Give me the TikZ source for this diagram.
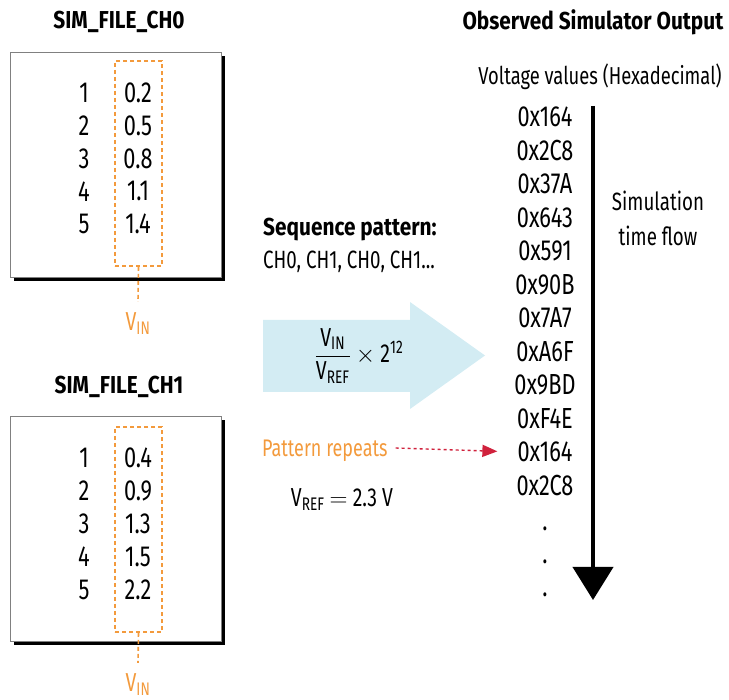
\documentclass[tikz,border=0pt]{standalone}
\usepackage{fontspec}
\setmainfont{Fira Sans}[FakeStretch=0.75, BoldFeatures={FakeStretch=0.85}]
\usetikzlibrary{positioning,shadows,arrows.meta}
\definecolor{vinOrange}{HTML}{F39A3C}
\definecolor{repeatRed}{HTML}{D0213C}
\definecolor{flowBlue}{HTML}{D3ECF3}
\tikzset{
  title/.style={font=\fontsize{24.5}{28}\selectfont\bfseries, inner sep=0pt},
  val/.style={font=\fontsize{29}{33}\selectfont, inner sep=0pt, text depth=0pt},
  note/.style={font=\fontsize{25}{29}\selectfont, inner sep=0pt},
  filebox/.style={draw=gray, fill=white, minimum width=211, minimum height=225,
    drop shadow={shadow xshift=3.5pt, shadow yshift=-4pt, fill=black, opacity=1}},
  vincol/.style={draw=vinOrange, line width=1.6pt, dash pattern=on 4pt off 3pt,
    minimum width=47, minimum height=205},
  vinline/.style={vinOrange, line width=1.6pt, dash pattern=on 4pt off 3pt},
  vinlabel/.style={note, font=\fontsize{26}{30}\selectfont, text=vinOrange, text depth=0pt}
}
\begin{document}
\begin{tikzpicture}[x=1pt, y=-1pt]
\useasboundingbox (0,0) rectangle (729,700);

% channel 0 file
\node[title] (t0) at (119,22) {SIM\_FILE\_CH0};
\node[filebox] (f0) at (115.5,164.5) {};
\node[vincol] (c0) at (138.5,163.5) {};
\foreach \v [count=\i] in {0.2,0.5,0.8,1.1,1.4} {
  \node[val] (n0\i) at (84,{93+32.75*(\i-1)}) {\i};
  \node[val] (v0\i) at (138,{93+32.75*(\i-1)}) {\v};
}
\node[vinlabel] (vin0) at (138,322) {V\textsubscript{IN}};
\draw[vinline] (c0.south) -- ([yshift=11pt]vin0.north);

% channel 1 file
\node[title] (t1) at (119,387) {SIM\_FILE\_CH1};
\node[filebox] (f1) at (115.5,528.5) {};
\node[vincol] (c1) at (138.5,529.5) {};
\foreach \v [count=\i] in {0.4,0.9,1.3,1.5,2.2} {
  \node[val] (n1\i) at (84,{458+33*(\i-1)}) {\i};
  \node[val] (v1\i) at (138,{458+33*(\i-1)}) {\v};
}
\node[vinlabel] (vin1) at (138,683) {V\textsubscript{IN}};
\draw[vinline] (c1.south) -- ([yshift=11pt]vin1.north);

% conversion
\node[title, anchor=west] (seq) at (263,230) {Sequence pattern:};
\node[note, anchor=west] (seqv) at (263,262) {CH0, CH1, CH0, CH1...};
\fill[flowBlue] (263,320) -- (410,320) -- (410,302) -- (485,355.5) -- (410,409) -- (410,392) -- (263,392) -- cycle;
\node[note, font=\fontsize{26}{30}\selectfont] (conv) at (359,356)
  {$\displaystyle\frac{\mbox{V\textsubscript{IN}}}{\mbox{V\textsubscript{REF}}}$ $\times$ 2\textsuperscript{12}};
\node[note, font=\fontsize{24}{28}\selectfont, text=vinOrange, anchor=west, text depth=0pt] (rep) at (262,448) {Pattern repeats};
\node[note, font=\fontsize{26}{30}\selectfont] (vref) at (342,500) {V\textsubscript{REF} $=$ 2.3 V};

% simulator output
\node[title] (tout) at (593,22) {Observed Simulator Output};
\node[note, font=\fontsize{24.5}{28}\selectfont] (hexnote) at (600,77) {Voltage values (Hexadecimal)};
\foreach \h [count=\i] in {0x164,0x2C8,0x37A,0x643,0x591,0x90B,0x7A7,0xA6F,0x9BD,0xF4E,0x164,0x2C8} {
  \node[val] (h\i) at (545,{117+33.5*(\i-1)}) {\h};
}
\foreach \i in {1,2,3} {
  \node[val] (dot\i) at (545,{529+33*(\i-1)}) {.};
}
\coordinate (flowtop) at (593,106);
\coordinate (flowend) at (593,600);
\draw[line width=4pt, -{Triangle[length=33pt, width=40pt]}] (flowtop) -- (flowend);
\node[note, align=center, font=\fontsize{25}{35}\selectfont] (flow) at (658,218) {Simulation\\time flow};

\draw[repeatRed, line width=1.4pt, dash pattern=on 3pt off 3pt, -{Triangle[length=15pt, width=12pt]}, shorten >=20pt]
  ([xshift=8pt]rep.east) -- (h11.west);
\end{tikzpicture}
\end{document}
